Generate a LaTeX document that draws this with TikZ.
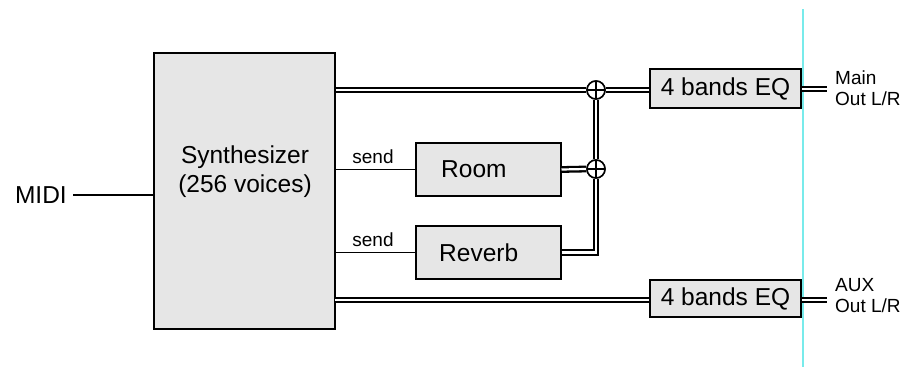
\documentclass[tikz,border=0pt]{standalone}
\usepackage{fontspec}
\setmainfont{Liberation Sans}
\definecolor{guide}{RGB}{120,235,235}
\definecolor{boxfill}{RGB}{230,230,230}
\begin{document}
\begin{tikzpicture}[x=1pt,y=-1pt,
  box/.style={draw=black, line width=2pt, fill=boxfill, inner sep=0pt},
  bigtext/.style={font=\fontsize{24.5}{29}\selectfont},
  smalltext/.style={font=\fontsize{19}{21}\selectfont},
  thin/.style={line width=1.4pt},
  dbl/.style={double=white, double distance=2.2pt, line width=2.3pt, line join=miter},
  sumnode/.style={circle, draw=black, line width=1.5pt, fill=white, minimum size=18pt, inner sep=0pt,
    path picture={\draw[line width=1.2pt] (path picture bounding box.north) -- (path picture bounding box.south)
      (path picture bounding box.west) -- (path picture bounding box.east);}}
]
\useasboundingbox (0,0) rectangle (907,367);
% guide line
\draw[guide, line width=1.4pt] (803,9) coordinate (gtop) -- (803,367) coordinate (gbot);

% boxes
\node[box, minimum width=181pt, minimum height=276pt] (synth) at (244.5,191) {};
\node[bigtext, align=center] (synthtxt) at (245,172) {Synthesizer\\(256 voices)};
\node[box, minimum width=145pt, minimum height=53pt] (room) at (488,169.5) {};
\node[box, minimum width=145pt, minimum height=53pt] (reverb) at (488,252.5) {};
\node[bigtext, anchor=west, inner sep=0pt] (roomtxt) at (441,169.5) {Room};
\node[bigtext, anchor=west, inner sep=0pt] (revtxt) at (439,252.5) {Reverb};
\node[box, minimum width=151pt, minimum height=39pt, bigtext] (eq1) at (725.5,88.5) {4 bands EQ};
\node[box, minimum width=151pt, minimum height=37pt, bigtext] (eq2) at (725.5,298.5) {4 bands EQ};

% MIDI
\node[bigtext, anchor=east, inner sep=0pt] (midi) at (67,195) {MIDI};
\draw[thin] (73,195) coordinate (midiend) -- (synth.west |- midiend);

% sends
\coordinate (s1) at (synth.east |- room.west);
\coordinate (s2) at (synth.east |- reverb.west);
\draw[thin] (s1) -- (room.west);
\draw[thin] (s2) -- (reverb.west);
\node[smalltext, inner sep=0pt] (send1) at (373,157) {send};
\node[smalltext, inner sep=0pt] (send2) at (373,240) {send};

% sums
\node[sumnode] (sum1) at (596,90) {};
\node[sumnode] (sum2) at (596,169) {};

% double lines
\coordinate (m1) at (synth.east |- sum1);
\coordinate (m2) at (335,300);
\coordinate (rv) at (596,252.5);
\draw[dbl] (m1) -- (sum1.west);
\draw[dbl] (sum1.east) -- (eq1.west |- sum1);
\draw[dbl] (m2) -- (eq2.west |- m2);
\draw[dbl] (sum1.south) -- (sum2.north);
\draw[dbl] (room.east) -- (sum2.west);
\draw[dbl] (reverb.east) -- (rv) -- (sum2.south);

% outputs
\coordinate (o1) at (827,89);
\coordinate (o2) at (827,300);
\draw[dbl] (eq1.east |- o1) -- (o1);
\draw[dbl] (eq2.east |- o2) -- (o2);
\node[smalltext, anchor=west, align=left, inner sep=0pt] (mainout) at (835,88) {Main\\Out L/R};
\node[smalltext, anchor=west, align=left, inner sep=0pt] (auxout) at (835,296) {AUX\\Out L/R};

% redraw boxes' borders and sums on top
\node[sumnode] at (sum1) {};
\node[sumnode] at (sum2) {};
\end{tikzpicture}
\end{document}
